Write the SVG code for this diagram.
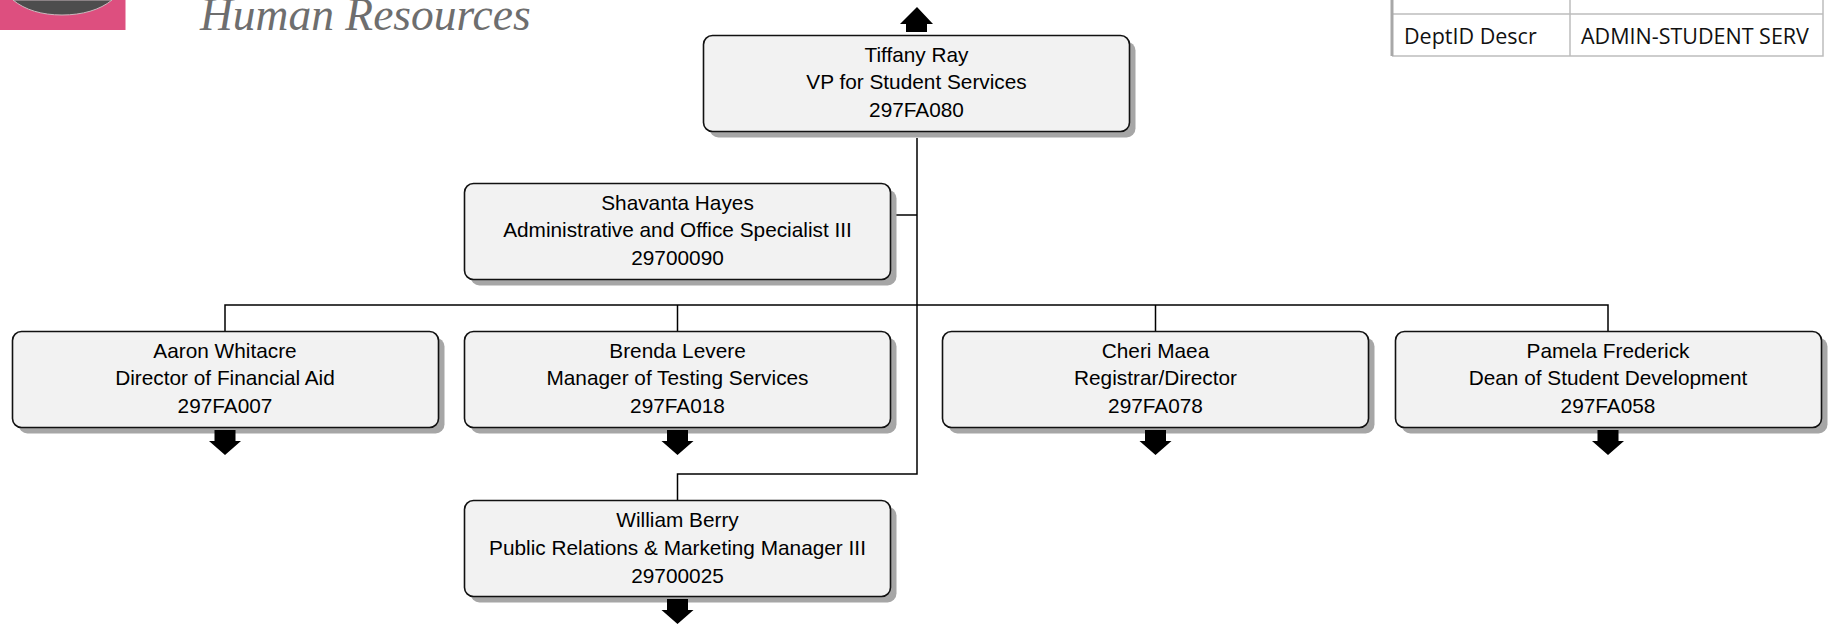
<svg xmlns="http://www.w3.org/2000/svg" width="1831" height="624" viewBox="0 0 1831 624">
<style>
.box{fill:#f2f2f2;stroke:#111;stroke-width:1.6}
.sh{fill:#a6a6a6}
.t{font-family:"Liberation Sans",Arial,sans-serif;font-size:20.800px;fill:#000;text-anchor:middle}
.c{fill:none;stroke:#000;stroke-width:1.5}
.g{fill:none;stroke:#bdbdbd;stroke-width:1.5}
.d{font-family:"Open Sans","Noto Sans",sans-serif;font-size:21.500px;fill:#111}
</style>
<defs>
<path id="dn" d="M-10.500 0H10.500V11H16L0 25L-16 11H-10.500Z" fill="#000"/>
<g id="b"><rect class="sh" x="6" y="6" width="426" height="96" rx="9"/><rect class="box" width="426" height="96" rx="9"/></g>
</defs>
<g id="logo">
<rect x="0" y="0" width="125.500" height="30" fill="#dd4f7f"/>
<path d="M13 0C25 10 42 15 62 15C82 15 100 10 112 0Z" fill="#4d4d4d" stroke="#c9b8bd" stroke-width="1"/>
<text x="200" y="29.500" font-family="'Liberation Serif',serif" font-style="italic" font-size="45.500" fill="#6e6e6e">Human Resources</text>
</g>
<g id="dept-table">
<path class="g" d="M1392 14H1823V56H1392M1570 0V56M1823 0V56"/>
<path d="M1392 0V56" stroke="#a8a8a8" stroke-width="3" fill="none"/>
<text class="d" x="1404" y="43.500">DeptID Descr</text>
<text class="d" x="1581" y="43.500">ADMIN-STUDENT SERV</text>
</g>
<g id="connectors">
<path class="c" d="M917 138V474H677.500V500"/>
<path class="c" d="M917 215H890"/>
<path class="c" d="M225 331V305H1608V331"/>
<path class="c" d="M677.500 305V331M1155.500 305V331"/>
</g>
<g id="up-arrow"><path d="M906 32V24H900L917 7L933 24H927V32Z" fill="#000"/></g>
<g id="n-tiffany"><use href="#b" x="703.500" y="35.500"/><text class="t" x="916.500" y="61.500">Tiffany Ray</text><text class="t" x="916.500" y="88.500">VP for Student Services</text><text class="t" x="916.500" y="116.500">297FA080</text></g>
<g id="n-shavanta"><use href="#b" x="464.500" y="183.500"/><text class="t" x="677.500" y="209.500">Shavanta Hayes</text><text class="t" x="677.500" y="236.500">Administrative and Office Specialist III</text><text class="t" x="677.500" y="264.500">29700090</text></g>
<g id="n-aaron"><use href="#b" x="12.500" y="331.500"/><text class="t" x="225" y="358">Aaron Whitacre</text><text class="t" x="225" y="384.500">Director of Financial Aid</text><text class="t" x="225" y="412.500">297FA007</text><use href="#dn" x="225" y="430"/></g>
<g id="n-brenda"><use href="#b" x="464.500" y="331.500"/><text class="t" x="677.500" y="358">Brenda Levere</text><text class="t" x="677.500" y="384.500">Manager of Testing Services</text><text class="t" x="677.500" y="412.500">297FA018</text><use href="#dn" x="677.500" y="430"/></g>
<g id="n-cheri"><use href="#b" x="942.500" y="331.500"/><text class="t" x="1155.500" y="358">Cheri Maea</text><text class="t" x="1155.500" y="384.500">Registrar/Director</text><text class="t" x="1155.500" y="412.500">297FA078</text><use href="#dn" x="1155.500" y="430"/></g>
<g id="n-pamela"><use href="#b" x="1395.500" y="331.500"/><text class="t" x="1608" y="358">Pamela Frederick</text><text class="t" x="1608" y="384.500">Dean of Student Development</text><text class="t" x="1608" y="412.500">297FA058</text><use href="#dn" x="1608" y="430"/></g>
<g id="n-william"><use href="#b" x="464.500" y="500.500"/><text class="t" x="677.500" y="527">William Berry</text><text class="t" x="677.500" y="554.500">Public Relations &amp; Marketing Manager III</text><text class="t" x="677.500" y="582.500">29700025</text><use href="#dn" x="677.500" y="599"/></g>
</svg>
